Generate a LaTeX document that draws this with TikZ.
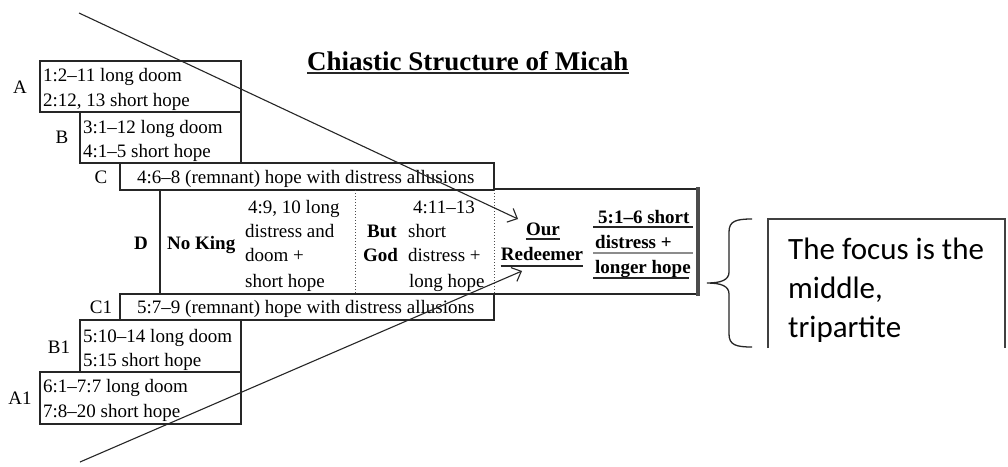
\documentclass[tikz,border=0pt]{standalone}
\usepackage{fontspec}
\setmainfont{Liberation Serif}
\newfontfamily\calibri{Carlito}
\usetikzlibrary{arrows.meta}
\begin{document}
\begin{tikzpicture}[x=1pt,y=-1pt,
  txt/.style={anchor=base west,inner sep=0pt,font=\fontsize{19}{22}\selectfont},
  btxt/.style={anchor=base west,inner sep=0pt,font=\fontsize{19}{22}\selectfont\bfseries},
  lbl/.style={anchor=base,inner sep=0pt,font=\fontsize{19}{22}\selectfont},
  frame/.style={draw=black!85,line width=1.3pt},
  thin/.style={draw=black!85,line width=1.1pt},
  dots/.style={draw=black!70,line width=1pt,dotted},
  uline/.style={draw=black!85,line width=1.4pt},
  pointer/.style={draw=black!85,line width=1.1pt,-{Straight Barb[length=8pt,width=15pt]}}]
\useasboundingbox (0,0) rectangle (1008,466);
\fill[white] (0,0) rectangle (1008,466);

% title
\node[anchor=base west,inner sep=0pt,font=\fontsize{27}{30}\selectfont\bfseries] (title) at (307,70) {Chiastic Structure of Micah};
\draw[uline] ([yshift=-3pt]title.base west) -- ([yshift=-3pt]title.base east);

% boxes
\draw[frame] (40,61) rectangle (241,112);
\draw[frame] (80,112) rectangle (241,163);
\draw[frame] (80,163) -- (494,163) -- (494,190) -- (120,190) -- (120,163);
\draw[frame] (160,190) -- (160,294);
\draw[frame] (494,189) -- (698,189);
\draw[frame] (120,294) -- (698,294);
\draw[draw=black!70,line width=4pt] (698,187) -- (698,296);
\draw[dots] (355,190) -- (355,294);
\draw[dots] (494,190) -- (494,294);
\draw[frame] (120,294) rectangle (494,320);
\draw[frame] (80,320) rectangle (241,372);
\draw[frame] (40,372) rectangle (241,424);

% labels
\node[lbl] (la) at (20,93) {A};
\node[lbl] (lb) at (62,143) {B};
\node[lbl] (lc) at (101,183) {C};
\node[lbl,font=\fontsize{19}{22}\selectfont\bfseries] (ld) at (141,249) {D};
\node[lbl] (lc1) at (101,313) {C1};
\node[lbl] (lb1) at (59,353) {B1};
\node[lbl] (la1) at (20,404) {A1};

% A, B
\node[txt] (a1) at (43,81) {1:2--11 long doom};
\node[txt] (a2) at (43,106) {2:12, 13 short hope};
\node[txt] (b1) at (83,133) {3:1--12 long doom};
\node[txt] (b2) at (83,157) {4:1--5 short hope};
% C
\node[txt] (c) at (137,183) {4:6--8 (remnant) hope with distress allusions};
% D
\node[btxt] (noking) at (167,249) {No King};
\node[txt] (d1) at (248,213) {4:9, 10 long};
\node[txt] (d2) at (245,237) {distress and};
\node[txt] (d3) at (245,261) {doom +};
\node[txt] (d4) at (245,287) {short hope};
\node[btxt] (but) at (367,237) {But};
\node[btxt] (god) at (363,261) {God};
\node[txt] (e1) at (413,213) {4:11--13};
\node[txt] (e2) at (408,237) {short};
\node[txt] (e3) at (408,261) {distress +};
\node[txt] (e4) at (409,287) {long hope};
\node[anchor=base,inner sep=0pt,font=\fontsize{19}{22}\selectfont\bfseries] (our) at (543,235) {Our};
\node[anchor=base,inner sep=0pt,font=\fontsize{19}{22}\selectfont\bfseries] (red) at (542,260) {Redeemer};
\draw[uline] ([yshift=-4pt]our.base west) -- ([yshift=-4pt]our.base east);
\draw[uline] ([yshift=-6pt]red.base west) -- ([yshift=-6pt]red.base east);
\node[btxt] (f1) at (598,223) {5:1--6 short};
\node[btxt] (f2) at (595,248) {distress +};
\node[btxt] (f3) at (595,273) {longer hope};
\draw[uline] (593,227) -- (693,227);
\draw[draw=black!45,line width=1.4pt] (593,253) -- (693,253);
\draw[uline] (593,278) -- (689,278);
% C1, B1, A1
\node[txt] (c1) at (137,313) {5:7--9 (remnant) hope with distress allusions};
\node[txt] (bb1) at (83,342) {5:10--14 long doom};
\node[txt] (bb2) at (83,366) {5:15 short hope};
\node[txt] (aa1) at (43,392) {6:1--7:7 long doom};
\node[txt] (aa2) at (43,417) {7:8--20 short hope};

% pointers
\coordinate (s1) at (79,13);
\coordinate (t1) at (518,219);
\coordinate (s2) at (80,462);
\coordinate (t2) at (522,271);
\draw[pointer] (s1) -- (t1);
\draw[pointer] (s2) -- (t2);

% brace
\draw[draw=black!85,line width=1.3pt] (752,219) .. controls (736,219) and (729,221) .. (729,232) -- (729,272) .. controls (729,280) and (721,283) .. (707,283) .. controls (721,283) and (729,286) .. (729,294) -- (729,334) .. controls (729,345) and (736,347) .. (752,347);

% note box
\begin{scope}
\clip (768,219) rectangle (1005,348);
\node[anchor=base west,inner sep=0pt,font=\calibri\fontsize{31}{39}\selectfont] (n1) at (788,259) {The focus is the};
\node[anchor=base west,inner sep=0pt,font=\calibri\fontsize{31}{39}\selectfont] (n2) at (788,298) {middle,};
\node[anchor=base west,inner sep=0pt,font=\calibri\fontsize{31}{39}\selectfont] (n3) at (788,337) {tripartite};
\end{scope}
\draw[draw=black!75,line width=1.3pt] (768,348) -- (768,219) -- (1005,219) -- (1005,348);
\end{tikzpicture}
\end{document}
